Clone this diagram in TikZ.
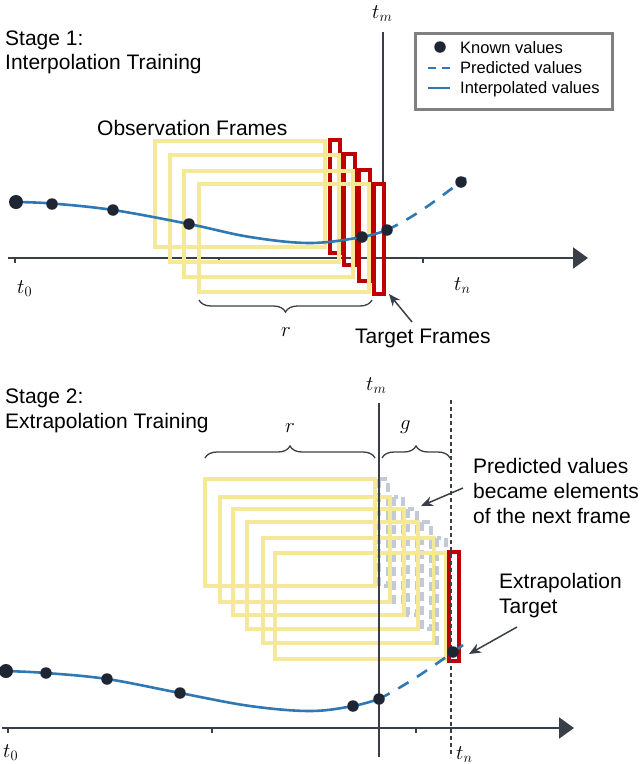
\documentclass[tikz,border=0pt]{standalone}
\usepackage{fontspec}
\setmainfont{Liberation Sans}
\usetikzlibrary{arrows.meta,decorations.pathreplacing}
\definecolor{fyellow}{HTML}{F5E896}
\definecolor{fred}{HTML}{C00000}
\definecolor{fgray}{HTML}{C2CAD8}
\definecolor{cblue}{HTML}{2F78B4}
\definecolor{ptcol}{HTML}{1E2533}
\definecolor{axcol}{HTML}{3A3F47}
\definecolor{legcol}{HTML}{808080}
\begin{document}
\begin{tikzpicture}[x=1pt,y=-1pt,
  lbl/.style={font=\fontsize{21}{25}\selectfont, inner sep=0, anchor=base west},
  leg/.style={font=\fontsize{16.5}{20}\selectfont, inner sep=0, anchor=base west},
  mth/.style={font=\fontsize{22.5}{26}\selectfont, inner sep=0, anchor=base west},
  yfr/.style={draw=fyellow, line width=4pt},
  rfr/.style={draw=fred, line width=3.8pt},
  gfr/.style={draw=fgray, line width=3.8pt, dash pattern=on 9pt off 5pt},
  interp/.style={draw=cblue, line width=2.6pt},
  pred/.style={draw=cblue, line width=2.6pt, dash pattern=on 12pt off 10pt},
  dot/.style={circle, fill=ptcol, inner sep=0, minimum size=11.5pt},
  bigdot/.style={circle, fill=ptcol, inner sep=0, minimum size=14pt},
  axis/.style={draw=axcol, line width=2.2pt, -{Triangle[length=15pt,width=21pt]}},
  tick/.style={draw=axcol, line width=1.2pt},
  vline/.style={draw=axcol, line width=1.5pt},
  dline/.style={draw=axcol, line width=1.1pt, dash pattern=on 4pt off 3pt},
  brc/.style={draw=axcol, line width=1.3pt, decorate, decoration={brace, amplitude=12pt}},
  pointer/.style={draw=axcol, line width=1.5pt, -{Stealth[length=12pt,width=10pt]}}
]
\useasboundingbox (0,0) rectangle (640,764);

% ================= Stage 1 =================
\node[lbl] (s1a) at (5,45) {Stage 1:};
\node[lbl] (s1b) at (5,69) {Interpolation Training};

% legend
\node[draw=legcol, line width=3pt, minimum width=197pt, minimum height=76pt, inner sep=0, anchor=north west] (legend) at (414,32) {};
\node[dot] (legdot) at (440,47) {};
\node[leg] (legk) at (460,53) {Known values};
\coordinate (lpa) at (428,68); \coordinate (lpb) at (450,68);
\draw[draw=cblue, line width=2.4pt, dash pattern=on 8pt off 6pt] (lpa) -- (lpb);
\node[leg] (legp) at (460,73) {Predicted values};
\coordinate (lia) at (428,88); \coordinate (lib) at (450,88);
\draw[draw=cblue, line width=2.4pt] (lia) -- (lib);
\node[leg] (legi) at (460,93) {Interpolated values};

% axis
\coordinate (ax1s) at (8,258); \coordinate (ax1e) at (588,258);
\draw[axis] (ax1s) -- (ax1e);
\foreach \x in {15,219,423} \draw[tick] (\x,258) -- (\x,263);
\node[mth] (t01) at (17,293) {$t_0$};
\node[mth] (tn1) at (454,290) {$t_n$};
\node[mth] (tm1) at (372,18) {$t_m$};
\coordinate (vm1a) at (383,32); \coordinate (vm1b) at (383,293);
\draw[vline] (vm1a) -- (vm1b);

% observation / target frames
\draw[yfr] (155,141) rectangle (325,247);
\draw[rfr] (330,140) rectangle (340,253);
\draw[yfr] (170,155) rectangle (339,262);
\draw[rfr] (344,154) rectangle (355,265);
\draw[yfr] (184,171) rectangle (353,277);
\draw[rfr] (359,170) rectangle (370,281);
\draw[yfr] (199,184) rectangle (369,292);
\draw[rfr] (374,184) rectangle (384,294);

% curve
\draw[interp] plot[smooth, tension=0.6] coordinates {(15,202) (52,203.5) (113,210) (189,224) (250,237) (310,243) (362,237) (387,230)};
\draw[pred] (387,230) .. controls (420,214) and (440,197) .. (466,178);
\node[bigdot] (p1) at (16,202) {};
\node[dot] (p2) at (52,204) {};
\node[dot] (p3) at (113,210) {};
\node[dot] (p4) at (189,224) {};
\node[dot] (p5) at (362,237) {};
\node[dot] (p6) at (387,230) {};
\node[dot] (p7) at (461,182) {};

\node[lbl] (obs) at (97,135) {Observation Frames};
\coordinate (b1a) at (199,300); \coordinate (b1b) at (372,300);
\draw[brc] (b1b) -- (b1a);
\node[mth] (r1) at (281,336) {$r$};
\node[lbl] (tgt) at (355,343) {Target Frames};
\coordinate (a1s) at (412,322); \coordinate (a1e) at (389,294);
\draw[pointer] (a1s) -- (a1e);

% ================= Stage 2 =================
\node[lbl] (s2a) at (5,403) {Stage 2:};
\node[lbl] (s2b) at (5,428) {Extrapolation Training};

\coordinate (ax2s) at (2,728); \coordinate (ax2e) at (574,728);
\draw[axis] (ax2s) -- (ax2e);
\foreach \x in {8,212,416} \draw[tick] (\x,728) -- (\x,733);
\node[mth] (t02) at (3,757) {$t_0$};
\node[mth] (tn2) at (456,759) {$t_n$};
\node[mth] (tm2) at (366,390) {$t_m$};

% frames
\draw[yfr] (205,479) rectangle (375,586);
\draw[gfr] (379,479) rectangle (388,586);
\draw[yfr] (220,497) rectangle (390,602);
\draw[gfr] (394,497) rectangle (403,602);
\draw[yfr] (233,509) rectangle (404,615);
\draw[gfr] (408,509) rectangle (417,615);
\draw[yfr] (247,522) rectangle (418,629);
\draw[gfr] (422,522) rectangle (431,629);
\draw[yfr] (263,538) rectangle (434,643);
\draw[gfr] (437,538) rectangle (446,643);
\draw[yfr] (275,553) rectangle (446,659);
\draw[rfr] (449,552) rectangle (459,661);

\coordinate (vm2a) at (379,403); \coordinate (vm2b) at (379,757);
\draw[vline] (vm2a) -- (vm2b);
\coordinate (vn2a) at (451,400); \coordinate (vn2b) at (451,757);
\draw[dline] (vn2a) -- (vn2b);

% curve
\draw[interp] plot[smooth, tension=0.6] coordinates {(5,671) (46,673) (107,679) (180,693) (250,706) (310,711) (353,706) (379,699)};
\draw[pred] (379,699) .. controls (410,683) and (435,665) .. (463,645);
\node[bigdot] (q1) at (6,671) {};
\node[dot] (q2) at (46,673) {};
\node[dot] (q3) at (107,679) {};
\node[dot] (q4) at (180,693) {};
\node[dot] (q5) at (353,706) {};
\node[dot] (q6) at (379,699) {};
\node[dot] (q7) at (453,652) {};

% braces
\coordinate (b2a) at (205,458); \coordinate (b2b) at (375,458);
\draw[brc] (b2a) -- (b2b);
\node[mth] (r2) at (285,432) {$r$};
\coordinate (b3a) at (382,458); \coordinate (b3b) at (450,458);
\draw[brc] (b3a) -- (b3b);
\node[mth] (g2) at (400,429) {$g$};

% annotations
\node[lbl, align=left, anchor=north west] (predtxt) at (473,458) {Predicted values\\became elements\\of the next frame};
\coordinate (a2s) at (463,488); \coordinate (a2e) at (421,506);
\draw[pointer] (a2s) -- (a2e);
\node[lbl, align=left, anchor=north west] (extxt) at (499,573) {Extrapolation\\Target};
\coordinate (a3s) at (517,627); \coordinate (a3e) at (469,654);
\draw[pointer] (a3s) -- (a3e);
\end{tikzpicture}
\end{document}
